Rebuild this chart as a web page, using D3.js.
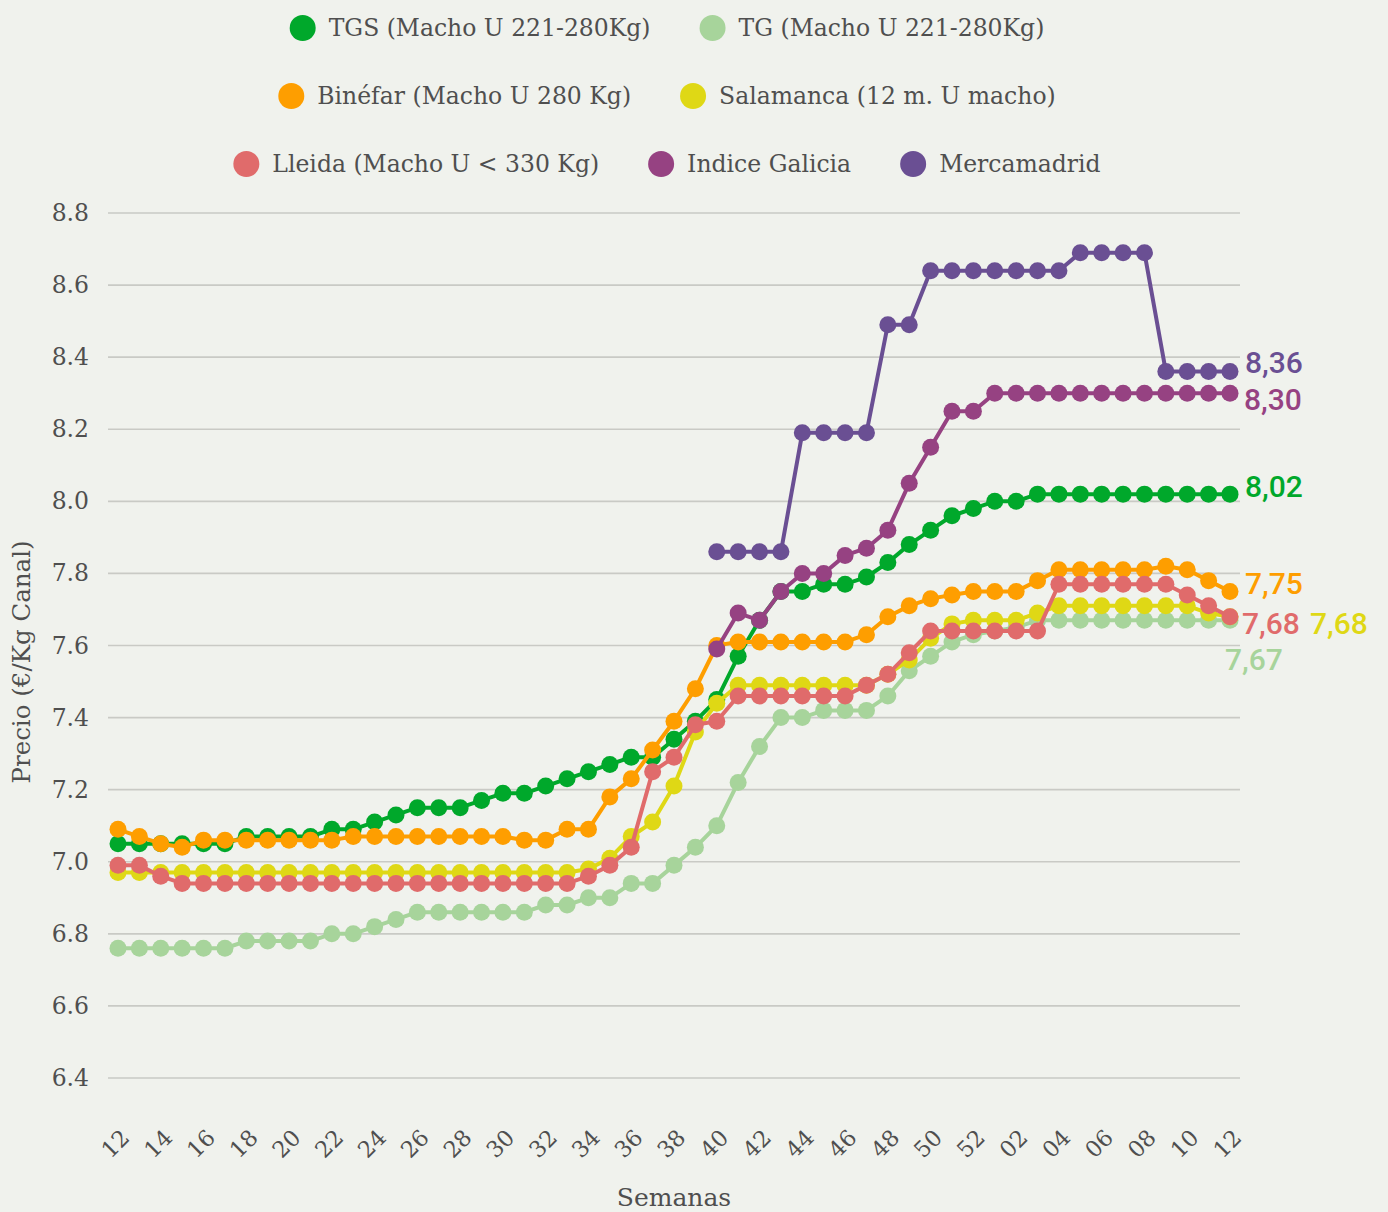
<!DOCTYPE html>
<html>
<head>
<meta charset="utf-8">
<script src="https://cdn.jsdelivr.net/npm/d3@7"></script>
<style>
  body { margin: 0; background: #f0f2ed; }
  svg { display: block; }
</style>
</head>
<body>
<div id="viz"></div>
<script>
// semanas (de la 12 a la 52 y de la 01 a la 12 del año siguiente)
var weeks = ["12","13","14","15","16","17","18","19","20","21","22","23","24","25","26","27","28","29","30","31",
  "32","33","34","35","36","37","38","39","40","41","42","43","44","45","46","47","48","49","50","51","52",
  "01","02","03","04","05","06","07","08","09","10","11","12"];

var yTicks = [6.4, 6.6, 6.8, 7.0, 7.2, 7.4, 7.6, 7.8, 8.0, 8.2, 8.4, 8.6, 8.8];

var tgs = [7.05,7.05,7.05,7.05,7.05,7.05,7.07,7.07,7.07,7.07,7.09,7.09,7.11,7.13,7.15,7.15,7.15,7.17,7.19,7.19,
  7.21,7.23,7.25,7.27,7.29,7.29,7.34,7.39,7.45,7.57,7.67,7.75,7.75,7.77,7.77,7.79,7.83,7.88,7.92,7.96,7.98,
  8.00,8.00,8.02,8.02,8.02,8.02,8.02,8.02,8.02,8.02,8.02,8.02];

var tg = [6.76,6.76,6.76,6.76,6.76,6.76,6.78,6.78,6.78,6.78,6.80,6.80,6.82,6.84,6.86,6.86,6.86,6.86,6.86,6.86,
  6.88,6.88,6.90,6.90,6.94,6.94,6.99,7.04,7.10,7.22,7.32,7.40,7.40,7.42,7.42,7.42,7.46,7.53,7.57,7.61,7.63,
  7.64,7.65,7.67,7.67,7.67,7.67,7.67,7.67,7.67,7.67,7.67,7.67];

var binefar = [7.09,7.07,7.05,7.04,7.06,7.06,7.06,7.06,7.06,7.06,7.06,7.07,7.07,7.07,7.07,7.07,7.07,7.07,7.07,7.06,
  7.06,7.09,7.09,7.18,7.23,7.31,7.39,7.48,7.60,7.61,7.61,7.61,7.61,7.61,7.61,7.63,7.68,7.71,7.73,7.74,7.75,
  7.75,7.75,7.78,7.81,7.81,7.81,7.81,7.81,7.82,7.81,7.78,7.75];

var salamanca = [6.97,6.97,6.97,6.97,6.97,6.97,6.97,6.97,6.97,6.97,6.97,6.97,6.97,6.97,6.97,6.97,6.97,6.97,6.97,6.97,
  6.97,6.97,6.98,7.01,7.07,7.11,7.21,7.36,7.44,7.49,7.49,7.49,7.49,7.49,7.49,7.49,7.52,7.56,7.62,7.66,7.67,
  7.67,7.67,7.69,7.71,7.71,7.71,7.71,7.71,7.71,7.71,7.69,7.68];

var lleida = [6.99,6.99,6.96,6.94,6.94,6.94,6.94,6.94,6.94,6.94,6.94,6.94,6.94,6.94,6.94,6.94,6.94,6.94,6.94,6.94,
  6.94,6.94,6.96,6.99,7.04,7.25,7.29,7.38,7.39,7.46,7.46,7.46,7.46,7.46,7.46,7.49,7.52,7.58,7.64,7.64,7.64,
  7.64,7.64,7.64,7.77,7.77,7.77,7.77,7.77,7.77,7.74,7.71,7.68];

var galicia = [null,null,null,null,null,null,null,null,null,null,null,null,null,null,null,null,null,null,null,null,
  null,null,null,null,null,null,null,null,7.59,7.69,7.67,7.75,7.80,7.80,7.85,7.87,7.92,8.05,8.15,8.25,8.25,
  8.30,8.30,8.30,8.30,8.30,8.30,8.30,8.30,8.30,8.30,8.30,8.30];

var mercamadrid = [null,null,null,null,null,null,null,null,null,null,null,null,null,null,null,null,null,null,null,null,
  null,null,null,null,null,null,null,null,7.86,7.86,7.86,7.86,8.19,8.19,8.19,8.19,8.49,8.49,8.64,8.64,8.64,
  8.64,8.64,8.64,8.64,8.69,8.69,8.69,8.69,8.36,8.36,8.36,8.36];

var seriesNames = ["TGS (Macho U 221-280Kg)", "TG (Macho U 221-280Kg)", "Binéfar (Macho U 280 Kg)",
  "Salamanca (12 m. U macho)", "Lleida (Macho U < 330 Kg)", "Indice Galicia", "Mercamadrid"];
var seriesValues = [tgs, tg, binefar, salamanca, lleida, galicia, mercamadrid];
var seriesColors = ["#00a82b", "#a7d49b", "#fe9e00", "#dfd815", "#e06b6b", "#964282", "#6a4f93"];
var legendRows = [[0, 1], [2, 3], [4, 5, 6]];
// desplazamiento de la etiqueta final (dx, dy) para evitar solapes
var labelShift = [[15, 3], [-5, 50], [15, 3], [80, 17], [12, 17], [14, 17], [15, 1]];

var W = 1388, H = 1212;
var serif = "'DejaVu Serif', serif";
var textColor = "#4f4f4f";

var svg = d3.select("#viz").append("svg")
  .attr("width", W).attr("height", H)
  .style("background", "#f0f2ed");

var x = d3.scalePoint().domain(d3.range(weeks.length)).range([118, 1230]);
var y = d3.scaleLinear().domain([6.4, 8.8]).range([1078, 213]);

// rejilla
svg.append("g").selectAll("line")
  .data(yTicks).enter().append("line")
  .attr("x1", 108).attr("x2", 1240)
  .attr("y1", function (d) { return y(d); })
  .attr("y2", function (d) { return y(d); })
  .style("stroke", "#c9cac5")
  .style("stroke-width", 1.6);

// eje y
svg.append("g").selectAll("text")
  .data(yTicks).enter().append("text")
  .attr("x", 89)
  .attr("y", function (d) { return y(d) + 8; })
  .attr("text-anchor", "end")
  .style("font-family", serif).style("font-size", "23.5px").style("fill", textColor)
  .text(function (d) { return d3.format(".1f")(d); });

svg.append("text")
  .attr("transform", "translate(30," + 662 + ") rotate(-90)")
  .attr("text-anchor", "middle")
  .style("font-family", serif).style("font-size", "24.5px").style("fill", textColor)
  .text("Precio (€/Kg Canal)");

// eje x
svg.append("g").selectAll("text")
  .data(d3.range(0, weeks.length, 2)).enter().append("text")
  .attr("transform", function (i) { return "translate(" + (x(i) + 13) + ",1139) rotate(-45)"; })
  .attr("text-anchor", "end")
  .style("font-family", serif).style("font-size", "22.5px").style("fill", textColor)
  .text(function (i) { return weeks[i]; });

svg.append("text")
  .attr("x", 674).attr("y", 1206)
  .attr("text-anchor", "middle")
  .style("font-family", serif).style("font-size", "25px").style("fill", textColor)
  .text("Semanas");

// series
var line = d3.line()
  .defined(function (d) { return d != null; })
  .x(function (d, i) { return x(i); })
  .y(function (d) { return y(d); });

seriesValues.forEach(function (vals, s) {
  var g = svg.append("g");
  g.append("path")
    .datum(vals)
    .attr("d", line)
    .style("fill", "none")
    .style("stroke", seriesColors[s])
    .style("stroke-width", 4)
    .style("stroke-linejoin", "round");
  g.selectAll("circle")
    .data(vals.map(function (v, i) { return { v: v, i: i }; }).filter(function (d) { return d.v != null; }))
    .enter().append("circle")
    .attr("cx", function (d) { return x(d.i); })
    .attr("cy", function (d) { return y(d.v); })
    .attr("r", 8.5)
    .style("fill", seriesColors[s]);
});

// etiquetas del último valor
seriesValues.forEach(function (vals, s) {
  var last = vals.length - 1;
  svg.append("text")
    .attr("x", x(last) + labelShift[s][0])
    .attr("y", y(vals[last]) + labelShift[s][1])
    .style("font-family", "Roboto, sans-serif").style("font-weight", 500)
    .style("font-size", "30px").style("fill", seriesColors[s])
    .text(d3.format(".2f")(vals[last]).replace(".", ","));
});

// leyenda
legendRows.forEach(function (row, r) {
  var lg = svg.append("g");
  var cx = 0;
  row.forEach(function (s) {
    var item = lg.append("g").attr("transform", "translate(" + cx + ",0)");
    item.append("circle").attr("cx", 13).attr("cy", 0).attr("r", 13).style("fill", seriesColors[s]);
    var t = item.append("text")
      .attr("x", 39).attr("y", 8)
      .style("font-family", serif).style("font-size", "23.5px").style("fill", textColor)
      .text(seriesNames[s]);
    cx += 39 + t.node().getComputedTextLength() + 49;
  });
  var width = cx - 49;
  lg.attr("transform", "translate(" + (667 - width / 2) + "," + (28 + r * 68) + ")");
});
</script>
</body>
</html>
